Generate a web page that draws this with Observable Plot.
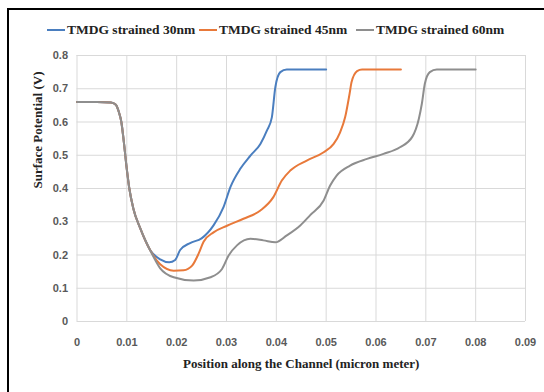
<!DOCTYPE html>
<html><head><meta charset="utf-8">
<script src="https://cdn.jsdelivr.net/npm/d3@7"></script>
<script src="https://cdn.jsdelivr.net/npm/@observablehq/plot@0.6"></script>
<style>
body{margin:0;background:#fff;}
#wrap{position:relative;width:544px;height:392px;overflow:hidden;background:#fff;}
#frameL{position:absolute;left:7px;top:8px;width:2px;height:400px;background:#000;z-index:2;}
#frameT{position:absolute;left:7px;top:8px;width:540px;height:2px;background:#000;z-index:2;}
#legend{height:45px;position:relative;font-family:"Liberation Serif","Times New Roman",serif;font-weight:bold;font-size:13.5px;color:#222;}
.item{position:absolute;top:22px;display:flex;align-items:center;white-space:nowrap;}
.sw{display:inline-block;width:18px;height:2px;margin-right:2px;}
</style></head>
<body>
<div id="wrap">
<div id="frameL"></div><div id="frameT"></div>
<div id="legend"></div>
<div id="chart"></div>
</div>
<script>
const seriesNames = ["TMDG strained 30nm","TMDG strained 45nm","TMDG strained 60nm"];
const seriesColors = ["#4a7ebf","#e8793a","#8e8e8e"];
const xTicks = [0,0.01,0.02,0.03,0.04,0.05,0.06,0.07,0.08,0.09];
const yTicks = [0,0.1,0.2,0.3,0.4,0.5,0.6,0.7,0.8];

const x30 = [0,0.004,0.0068,0.0078,0.0084,0.0089,0.0094,0.0099,0.0105,0.0113,0.0127,0.0147,0.0167,0.0185,0.0197,0.0207,0.0227,0.0250,0.0274,0.0294,0.0308,0.0328,0.0348,0.0368,0.0381,0.0391,0.0398,0.0408,0.0421,0.05];
const y30 = [0.66,0.66,0.659,0.652,0.63,0.60,0.54,0.47,0.40,0.34,0.28,0.214,0.187,0.178,0.185,0.215,0.236,0.250,0.289,0.344,0.405,0.460,0.499,0.534,0.574,0.614,0.705,0.75,0.758,0.758];

const x45 = [0,0.004,0.0068,0.0078,0.0084,0.0089,0.0094,0.0099,0.0105,0.0113,0.0127,0.0147,0.0167,0.0194,0.0214,0.0231,0.0244,0.0254,0.0274,0.0301,0.0334,0.0368,0.0394,0.0411,0.0428,0.0461,0.0495,0.0515,0.0528,0.0538,0.0547,0.0551,0.0562,0.0572,0.065];
const y45 = [0.66,0.66,0.659,0.652,0.63,0.60,0.54,0.47,0.40,0.34,0.28,0.214,0.172,0.153,0.154,0.168,0.204,0.240,0.268,0.288,0.309,0.334,0.374,0.424,0.454,0.484,0.509,0.534,0.569,0.614,0.685,0.72,0.753,0.758,0.758];

const x60 = [0,0.004,0.0068,0.0078,0.0084,0.0089,0.0094,0.0099,0.0105,0.0113,0.0127,0.0147,0.0167,0.0194,0.0234,0.0268,0.0291,0.0304,0.0321,0.0348,0.0374,0.0398,0.0421,0.0448,0.0468,0.0495,0.0508,0.0521,0.0548,0.0582,0.0615,0.0648,0.0673,0.0686,0.0692,0.0698,0.0708,0.0722,0.08];
const y60 = [0.66,0.66,0.659,0.652,0.63,0.60,0.54,0.47,0.40,0.34,0.28,0.214,0.160,0.133,0.123,0.133,0.158,0.198,0.229,0.249,0.244,0.238,0.259,0.289,0.320,0.364,0.409,0.439,0.469,0.489,0.504,0.524,0.556,0.610,0.655,0.715,0.75,0.758,0.758];

const xs = [x30,x45,x60], ys = [y30,y45,y60];
const data = [];
xs.forEach((xa,i)=>xa.forEach((xv,j)=>data.push({series:seriesNames[i], x:xv, y:ys[i][j]})));

// legend
const legendPos = [47,199,356];
const lg = document.getElementById("legend");
seriesNames.forEach((n,i)=>{
  const d = document.createElement("div");
  d.className="item"; d.style.left=legendPos[i]+"px";
  d.innerHTML = `<span class="sw" style="background:${seriesColors[i]}"></span>${n}`;
  lg.appendChild(d);
});

const fmt = d => d===0 ? "0" : d3.format("~g")(+d.toFixed(4));
const chart = Plot.plot({
  width:544, height:347,
  marginLeft:76.5, marginRight:19, marginTop:10, marginBottom:71,
  style:{fontFamily:"'Liberation Sans',Arial,sans-serif", fontSize:"11px", background:"transparent", color:"#555"},
  x:{domain:[0,0.09], ticks:xTicks, tickFormat:fmt, tickSize:0, tickPadding:17, label:null},
  y:{domain:[0,0.8], ticks:yTicks, tickFormat:fmt, tickSize:0, tickPadding:9, label:null},
  color:{domain:seriesNames, range:seriesColors},
  marks:[
    Plot.gridX(xTicks,{stroke:"#d9d9d9", strokeOpacity:1, strokeWidth:1}),
    Plot.gridY(yTicks,{stroke:"#d9d9d9", strokeOpacity:1, strokeWidth:1}),
    Plot.axisX({ticks:xTicks, tickFormat:fmt, tickSize:0, tickPadding:17, fontWeight:"bold", fill:"#595959", label:null}),
    Plot.axisY({ticks:yTicks, tickFormat:fmt, tickSize:0, tickPadding:9, fontWeight:"bold", fill:"#595959", label:null}),
    Plot.line(data,{x:"x", y:"y", z:"series", stroke:"series", strokeWidth:2, curve:"monotone-x"}),
    Plot.text(["Position along the Channel (micron meter)"],{frameAnchor:"bottom", dy:46, text:d=>d, fontFamily:"'Liberation Serif','Times New Roman',serif", fontWeight:"bold", fontSize:13, fill:"#222"}),
    Plot.text(["Surface Potential (V)"],{frameAnchor:"left", dx:-39, rotate:-90, text:d=>d, fontFamily:"'Liberation Serif','Times New Roman',serif", fontWeight:"bold", fontSize:13, fill:"#222"})
  ]
});
document.getElementById("chart").appendChild(chart);
</script>
</body></html>
